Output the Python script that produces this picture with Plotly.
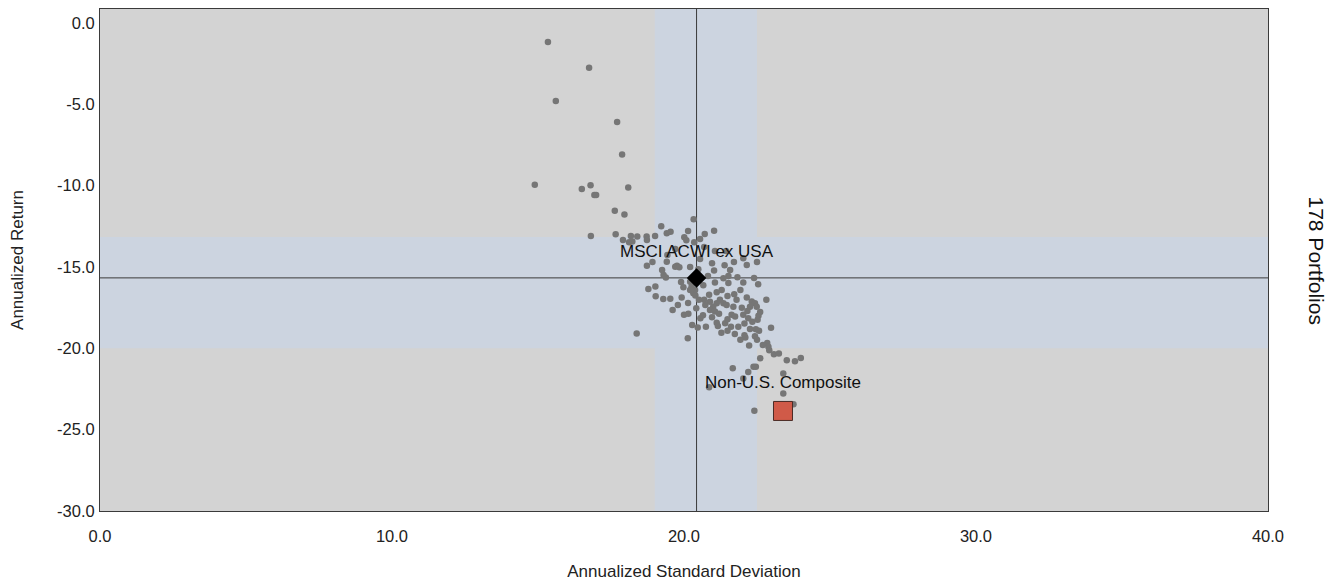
import plotly.graph_objects as go

# Portfolio universe (annualized std dev, annualized return)
port_sd = [15.34, 16.75, 15.61, 17.71, 17.88, 14.89, 16.50, 16.80, 18.09, 16.93,
           16.99, 17.63, 17.96, 19.22, 20.33, 19.54, 19.41, 20.14, 16.81, 17.66,
           18.18, 18.40, 18.72, 19.01, 20.01, 20.35, 18.12, 21.03, 20.71, 20.55,
           20.08, 18.23, 19.43, 19.41, 19.76, 19.70, 19.84, 18.73, 20.96, 21.03,
           21.39, 22.03, 19.30, 19.38, 19.90, 19.98, 20.21, 20.26, 20.38, 20.32,
           20.39, 20.66, 21.06, 21.35, 21.52, 21.83, 22.40, 21.52, 22.03, 18.78,
           19.02, 21.12, 21.29, 21.72, 19.03, 19.29, 19.53, 19.92, 21.23, 21.35,
           21.46, 21.12, 21.00, 20.69, 20.89, 20.73, 21.80, 22.15, 22.32, 22.43,
           22.49, 22.26, 21.98, 21.69, 20.42, 19.61, 20.89, 21.06, 21.63, 21.75,
           22.03, 22.20, 22.55, 20.00, 20.15, 20.56, 20.28, 20.47, 20.75, 21.12,
           21.16, 21.41, 21.61, 22.07, 22.26, 22.46, 22.57, 22.98, 21.28, 21.74,
           22.07, 22.10, 22.43, 18.38, 20.13, 22.23, 22.85, 22.89, 22.92, 23.08,
           23.25, 23.80, 24.00, 21.67, 22.38, 22.46, 23.40, 22.03, 20.86, 23.40,
           23.75, 22.41, 21.06, 20.49, 20.21, 18.73, 17.91, 18.92, 20.69, 21.44,
           21.71, 22.15, 22.50, 21.49, 21.93, 20.96, 21.49, 21.86, 22.34, 22.52,
           20.65, 20.86, 20.51, 19.79, 20.14, 22.50, 22.70, 22.61, 22.17, 21.20,
           21.49, 21.93, 20.55, 20.21, 20.82, 19.25, 21.58, 22.54, 22.82, 22.61,
           23.52, 19.70, 22.20]
port_ret = [-1.17, -2.75, -4.79, -6.08, -8.09, -9.94, -10.20, -9.97, -10.12, -10.57,
            -10.57, -11.55, -11.78, -12.49, -12.06, -12.83, -12.93, -12.78, -13.09, -12.99,
            -13.09, -13.13, -13.13, -13.09, -13.17, -13.48, -13.48, -12.77, -12.97, -13.28,
            -13.36, -13.44, -14.26, -14.67, -14.92, -14.98, -15.01, -14.92, -14.77, -15.22,
            -14.89, -14.46, -15.49, -15.65, -15.93, -16.24, -15.90, -16.20, -16.41, -16.61,
            -16.76, -16.12, -15.96, -15.69, -15.55, -15.63, -15.67, -15.99, -15.96, -16.36,
            -16.20, -16.55, -16.41, -16.67, -16.80, -16.97, -16.95, -16.88, -17.02, -17.23,
            -17.33, -17.23, -17.44, -17.02, -17.13, -17.33, -17.02, -16.88, -17.12, -17.23,
            -17.44, -17.44, -17.50, -17.44, -17.53, -17.64, -17.64, -17.74, -17.94, -18.05,
            -17.94, -18.15, -18.00, -17.94, -17.88, -18.15, -18.56, -18.72, -18.68, -18.42,
            -18.62, -18.46, -18.68, -18.48, -18.81, -18.83, -18.92, -18.73, -19.04, -19.12,
            -19.19, -19.33, -19.25, -19.09, -19.38, -19.83, -19.67, -19.91, -20.12, -20.36,
            -20.32, -20.79, -20.60, -21.23, -21.13, -21.13, -21.54, -21.85, -22.40, -22.77,
            -23.44, -23.83, -14.01, -15.14, -16.41, -13.34, -13.34, -14.69, -13.77, -14.01,
            -14.69, -14.87, -14.69, -16.78, -16.41, -18.09, -18.21, -18.68, -18.37, -18.25,
            -17.97, -16.71, -17.02, -17.33, -17.21, -19.48, -19.79, -17.76, -17.70, -17.88,
            -18.92, -19.48, -14.51, -15.00, -15.55, -15.18, -15.18, -16.06, -17.02, -20.61,
            -20.73, -13.90, -21.46]

# Benchmark and composite
bench_name = "MSCI ACWI ex USA"
bench_sd, bench_ret = 20.43, -15.67
comp_name = "Non-U.S. Composite"
comp_sd, comp_ret = 23.39, -23.85

# Inner (middle) ranges of universe
band_sd = [19.0, 22.5]
band_ret = [-20.0, -13.15]

x_ticks = [0, 10, 20, 30, 40]
x_labels = ["0.0", "10.0", "20.0", "30.0", "40.0"]
y_ticks = [-30, -25, -20, -15, -10, -5, 0]
y_labels = ["-30.0", "-25.0", "-20.0", "-15.0", "-10.0", "-5.0", "0.0"]
x_range = [0, 40]
y_range = [-30, 0.86]

FONT = "Liberation Sans, Arial, sans-serif"
band_color = "#ccd4e0"
line_color = "#3a3a3a"

fig = go.Figure()

fig.add_trace(go.Scatter(
    x=port_sd, y=port_ret, mode="markers",
    marker=dict(size=6.5, color="#767676", line=dict(width=0)),
    hoverinfo="x+y", showlegend=False))

fig.add_trace(go.Scatter(
    x=[bench_sd], y=[bench_ret], mode="markers",
    marker=dict(symbol="diamond", size=15, color="#000000", line=dict(width=0)),
    showlegend=False))

fig.add_trace(go.Scatter(
    x=[comp_sd], y=[comp_ret], mode="markers",
    marker=dict(symbol="square", size=19, color="#d05a48",
                line=dict(width=1, color="#4a2a25")),
    showlegend=False))

shapes = [
    dict(type="rect", xref="x", yref="paper", x0=band_sd[0], x1=band_sd[1], y0=0, y1=1,
         fillcolor=band_color, line=dict(width=0), layer="below"),
    dict(type="rect", xref="paper", yref="y", x0=0, x1=1, y0=band_ret[0], y1=band_ret[1],
         fillcolor=band_color, line=dict(width=0), layer="below"),
    dict(type="line", xref="x", yref="paper", x0=bench_sd, x1=bench_sd, y0=0, y1=1,
         line=dict(color=line_color, width=1), layer="below"),
    dict(type="line", xref="paper", yref="y", x0=0, x1=1, y0=bench_ret, y1=bench_ret,
         line=dict(color=line_color, width=1), layer="below"),
]

annotations = [
    dict(text="178 Portfolios", xref="paper", yref="paper",
         x=1.0, xshift=62, y=0.5, textangle=90, showarrow=False,
         font=dict(family=FONT, size=21, color="#111111")),
    dict(text=bench_name, x=bench_sd, y=bench_ret, xref="x", yref="y",
         yshift=26, showarrow=False,
         font=dict(family=FONT, size=17, color="#111111")),
    dict(text=comp_name, x=comp_sd, y=comp_ret, xref="x", yref="y",
         yshift=28, showarrow=False,
         font=dict(family=FONT, size=17, color="#111111")),
]

fig.update_layout(
    width=1332, height=575,
    margin=dict(l=92, r=72, t=1, b=72, autoexpand=False),
    paper_bgcolor="#ffffff",
    plot_bgcolor="#d3d3d3",
    font=dict(family=FONT, size=16, color="#222222"),
    shapes=shapes,
    annotations=annotations,
    showlegend=False,
)

fig.update_xaxes(
    range=x_range, tickvals=x_ticks, ticktext=x_labels, automargin=False,
    showgrid=False, zeroline=False, showline=True, linecolor=line_color, linewidth=1,
    mirror=True, ticks="", ticklabelstandoff=10, tickfont=dict(size=16.5),
    title=dict(text="Annualized Standard Deviation", standoff=21,
               font=dict(family=FONT, size=17)),
)
fig.update_yaxes(
    range=y_range, tickvals=y_ticks, ticktext=y_labels, automargin=False,
    showgrid=False, zeroline=False, showline=True, linecolor=line_color, linewidth=1,
    mirror=True, ticks="", ticklabelstandoff=1, tickfont=dict(size=16.5),
    title=dict(text="Annualized Return", standoff=29,
               font=dict(family=FONT, size=17)),
)

fig.write_html("out.html")
